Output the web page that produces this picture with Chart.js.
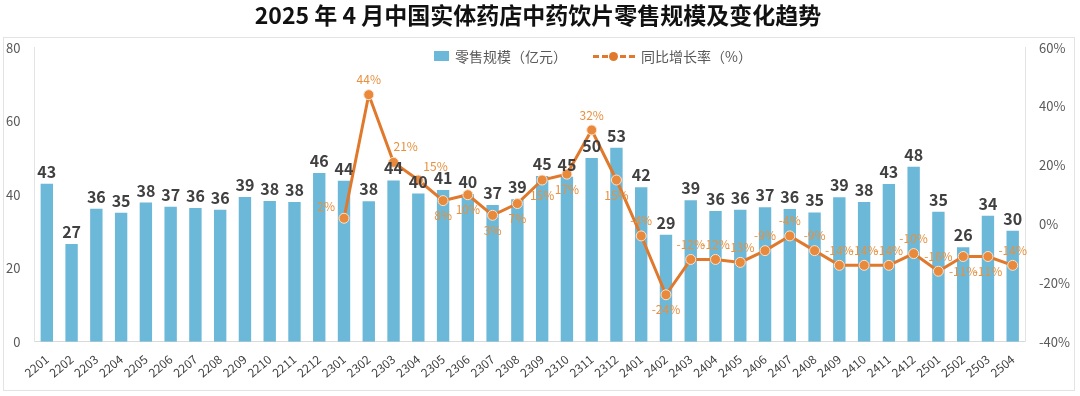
<!DOCTYPE html>
<html>
<head>
<meta charset="utf-8">
<script src="https://cdn.jsdelivr.net/npm/chart.js@4.4.1/dist/chart.umd.min.js"></script>
<style>
  html, body { margin: 0; padding: 0; background: #fff; }
  #wrap { position: relative; width: 1080px; height: 396px; }
  #frame { position: absolute; left: 3px; top: 37px; width: 1072px; height: 354px; border: 1px solid #e3e3e3; box-sizing: border-box; pointer-events: none; }
  #legend { position: absolute; top: 46px; left: 434px; font: 14px "Noto Sans CJK SC", sans-serif; color: #595959; display: flex; align-items: center; white-space: nowrap; }
  #legend .box { display: inline-block; width: 15px; height: 10px; background: #6cb8d8; margin-right: 6px; }
  #legend .ln { display: inline-block; position: relative; width: 42px; height: 10px; margin: 0 6px 0 26px; }
  #legend .ln::before { content: ""; position: absolute; left: 0; right: 0; top: 4px; border-top: 3px dashed #e0792c; }
  #legend .ln::after { content: ""; position: absolute; left: 16px; top: 1px; width: 9px; height: 9px; border-radius: 50%; background: #e0792c; }
</style>
</head>
<body>
<div id="wrap">
  <canvas id="mainChart" width="1080" height="396"></canvas>
  <div id="frame"></div>
  <div id="legend"><span class="box"></span>零售规模（亿元）<span class="ln"></span>同比增长率（%）</div>
</div>
<script>
const months = ['2201','2202','2203','2204','2205','2206','2207','2208','2209','2210','2211','2212',
                '2301','2302','2303','2304','2305','2306','2307','2308','2309','2310','2311','2312',
                '2401','2402','2403','2404','2405','2406','2407','2408','2409','2410','2411','2412',
                '2501','2502','2503','2504'];
const retailScale = [43, 27, 36, 35, 38, 37, 36, 36, 39, 38, 38, 46,
                     44, 38, 44, 40, 41, 40, 37, 39, 45, 45, 50, 53,
                     42, 29, 39, 36, 36, 37, 36, 35, 39, 38, 43, 48,
                     35, 26, 34, 30];
// bar heights (labels are rounded)
const retailHeight = [43, 26.6, 36.2, 35.1, 37.9, 36.7, 36.4, 35.9, 39.4, 38.3, 38, 45.9,
                      43.8, 38.2, 43.9, 40.3, 41.3, 40.2, 37.2, 38.8, 45.1, 44.9, 50, 52.8,
                      42, 29.1, 38.5, 35.6, 35.9, 36.6, 36.1, 35.2, 39.3, 38, 42.9, 47.6,
                      35.4, 25.7, 34.3, 30.2];
const yoyRate = [null, null, null, null, null, null, null, null, null, null, null, null,
                 2, 44, 21, 15, 8, 10, 3, 7, 15, 17, 32, 15,
                 -4, -24, -12, -12, -13, -9, -4, -9, -14, -14, -14, -10,
                 -16, -11, -11, -14];
// where each growth label sits relative to its point
const yoyLabelSide = [null, null, null, null, null, null, null, null, null, null, null, null,
                      'left', 'above', 'aboveRight', 'right', 'below', 'below', 'below', 'below', 'below', 'below', 'above', 'below',
                      'above', 'below', 'above', 'above', 'above', 'above', 'above', 'above', 'above', 'above', 'above', 'above',
                      'above', 'below', 'below', 'above'];

const valueLabels = {
    id: 'valueLabels',
    afterDatasetsDraw(chart) {
        const ctx = chart.ctx;
        ctx.save();
        // bar labels
        const bars = chart.getDatasetMeta(0).data;
        ctx.font = 'bold 16px "Noto Sans CJK SC", sans-serif';
        ctx.fillStyle = '#404040';
        ctx.textAlign = 'center';
        ctx.textBaseline = 'bottom';
        bars.forEach((bar, i) => {
            ctx.fillText(String(retailScale[i]), bar.x, bar.y - 4);
        });
        // line labels
        const pts = chart.getDatasetMeta(1).data;
        ctx.font = '12px "Noto Sans CJK SC", sans-serif';
        ctx.fillStyle = '#e8903e';
        pts.forEach((p, i) => {
            const v = yoyRate[i];
            if (v === null || p.skip) return;
            const txt = v + '%';
            const side = yoyLabelSide[i];
            let x = p.x, y = p.y;
            if (side === 'above') { ctx.textAlign = 'center'; ctx.textBaseline = 'bottom'; y -= 9; }
            else if (side === 'below') { ctx.textAlign = 'center'; ctx.textBaseline = 'top'; y += 9; }
            else if (side === 'left') { ctx.textAlign = 'right'; ctx.textBaseline = 'middle'; x -= 9; y -= 12; }
            else if (side === 'right') { ctx.textAlign = 'left'; ctx.textBaseline = 'bottom'; x += 5; y -= 8; }
            else if (side === 'aboveRight') { ctx.textAlign = 'left'; ctx.textBaseline = 'bottom'; x += 0; y -= 10; }
            ctx.fillText(txt, x, y);
        });
        ctx.restore();
    }
};

const ctx = document.getElementById('mainChart').getContext('2d');
new Chart(ctx, {
    type: 'bar',
    data: {
        labels: months,
        datasets: [
            {
                type: 'bar',
                label: '零售规模（亿元）',
                data: retailHeight,
                backgroundColor: '#6cb8d8',
                categoryPercentage: 1,
                barPercentage: 0.5,
                yAxisID: 'y',
                order: 2
            },
            {
                type: 'line',
                label: '同比增长率（%）',
                data: yoyRate,
                borderColor: '#e0792c',
                backgroundColor: '#e0792c',
                borderWidth: 3,
                pointRadius: 5,
                pointBackgroundColor: '#e8893c',
                pointBorderColor: '#fbe3cf',
                pointBorderWidth: 1,
                tension: 0,
                spanGaps: false,
                yAxisID: 'y1',
                order: 1
            }
        ]
    },
    options: {
        responsive: false,
        animation: false,
        layout: { padding: { left: 0, right: 4, top: 0, bottom: 14 } },
        scales: {
            x: {
                offset: true,
                grid: { display: false },
                border: { color: '#d9d9d9' },
                ticks: {
                    color: '#404040',
                    font: { size: 12, family: '"Noto Sans CJK SC", sans-serif' },
                    minRotation: 40,
                    maxRotation: 40,
                    autoSkip: false,
                    padding: 2
                }
            },
            y: {
                min: 0,
                max: 80,
                ticks: {
                    stepSize: 20,
                    color: '#595959',
                    font: { size: 13, family: '"Noto Sans CJK SC", sans-serif' },
                    padding: 6
                },
                grid: { display: false },
                border: { color: '#e3e3e3' }
            },
            y1: {
                position: 'right',
                min: -40,
                max: 60,
                ticks: {
                    stepSize: 20,
                    color: '#595959',
                    font: { size: 13, family: '"Noto Sans CJK SC", sans-serif' },
                    callback: v => v + '%',
                    padding: 6
                },
                grid: { display: false, drawOnChartArea: false },
                border: { color: '#e3e3e3' }
            }
        },
        plugins: {
            legend: { display: false },
            tooltip: { enabled: false },
            title: {
                display: true,
                text: '2025 年 4 月中国实体药店中药饮片零售规模及变化趋势',
                color: '#111',
                font: { size: 23, weight: 'bold', family: '"Noto Sans CJK SC", sans-serif' },
                padding: { top: 1, bottom: 19 }
            }
        }
    },
    plugins: [valueLabels]
});
</script>
</body>
</html>
